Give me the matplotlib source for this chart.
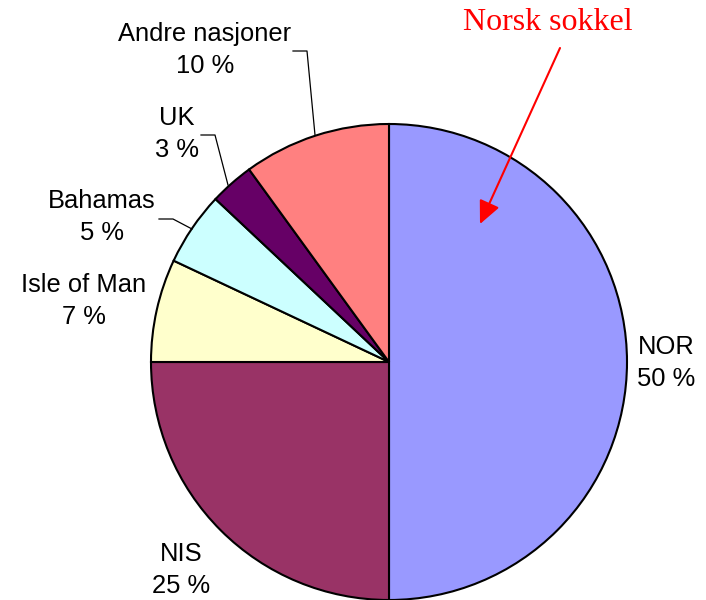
import matplotlib
matplotlib.use("Agg")
import matplotlib.pyplot as plt

labels = ["NOR", "NIS", "Isle of Man", "Bahamas", "UK", "Andre nasjoner"]
values = [50, 25, 7, 5, 3, 10]
colors = ["#9999FF", "#993366", "#FFFFCC", "#CCFFFF", "#660066", "#FF8080"]
annotation_text = "Norsk sokkel"

W, H = 706, 600
fig = plt.figure(figsize=(W / 100, H / 100), dpi=100)
ax = fig.add_axes([0, 0, 1, 1])

cx, cy, r = 389, H - 362, 238
ax.pie(values, colors=colors, startangle=90, counterclock=False,
       center=(cx, cy), radius=r, frame=True,
       wedgeprops=dict(edgecolor="black", linewidth=1.5))
ax.set_xlim(0, W)
ax.set_ylim(0, H)
ax.set_aspect("equal")
ax.axis("off")

# label positions (pixel coords from top)
label_pos = {
    "NOR": (666, 363),
    "NIS": (181, 570),
    "Isle of Man": (84, 301),
    "Bahamas": (102, 217),
    "UK": (177, 134),
    "Andre nasjoner": (205, 50),
}
for lab, val in zip(labels, values):
    x, y = label_pos[lab]
    ax.text(x, H - y, f"{lab}\n{val} %", ha="center", va="center",
            multialignment="center", fontsize=18.4, linespacing=1.46,
            family=["Liberation Sans", "DejaVu Sans"], color="black")

# leader lines
leaders = [
    [(293, 51), (307, 51), (315, 135)],
    [(201, 135), (215, 135), (228, 185)],
    [(159, 219), (173, 219), (192, 229)],
]
for pts in leaders:
    xs = [p[0] for p in pts]
    ys = [H - p[1] for p in pts]
    ax.plot(xs, ys, color="black", linewidth=0.9)

ax.text(548, H - 22, annotation_text, ha="center", va="center",
        fontsize=23, color="#FF0000", family=["Liberation Serif", "DejaVu Serif"])
ax.annotate("", xy=(480, H - 224), xytext=(560, H - 48),
            arrowprops=dict(arrowstyle="-|>,head_length=1.4,head_width=0.65",
                            color="#FF0000", linewidth=1.5,
                            shrinkA=0, shrinkB=0))

fig.savefig("out.png", dpi=100)
